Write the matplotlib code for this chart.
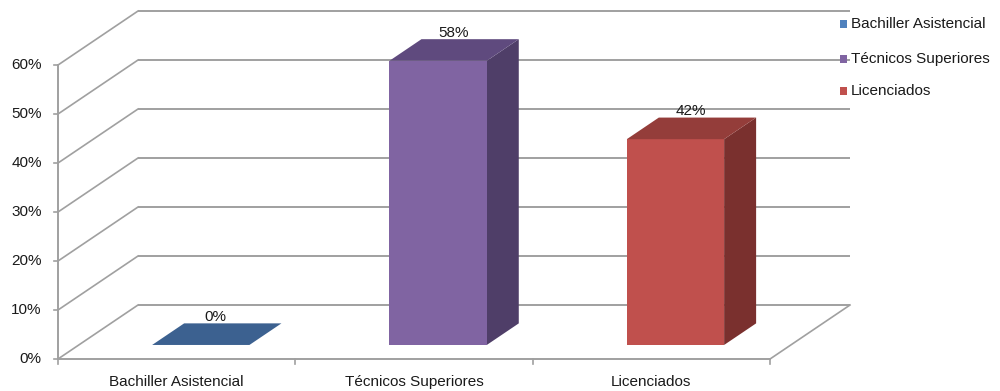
import matplotlib
matplotlib.use("Agg")
import matplotlib.pyplot as plt
from matplotlib.patches import Polygon, Rectangle

# ---- data ----
categories = ["Bachiller Asistencial", "Técnicos Superiores", "Licenciados"]
values = [0, 58, 42]
value_labels = ["0%", "58%", "42%"]
y_ticks = [0, 10, 20, 30, 40, 50, 60]
y_tick_labels = ["0%", "10%", "20%", "30%", "40%", "50%", "60%"]

# front / top / side shades for each series
front_colors = ["#4F81BD", "#8064A2", "#C0504D"]
top_colors = ["#3C6190", "#5F4A7E", "#943D3A"]
side_colors = ["#34557E", "#4F3E68", "#7A302E"]
legend_colors = ["#4F81BD", "#8064A2", "#C0504D"]

FONT = "Liberation Sans"
FS = 11
GRID = "#A0A0A0"

# ---- oblique projection (depth runs up and to the right) ----
DX = 0.337    # horizontal shift of the back wall, category units
DY = 11.02    # vertical shift of the back wall, percent units
D_FRONT, D_BACK = 0.26, 0.66   # depth span of the bars
BAR_W = 0.41
BAR_SHIFT = 0.014


def proj(x, v, d):
    return (x + d * DX, v + d * DY)


fig = plt.figure(figsize=(10, 3.91), dpi=100)
ax = fig.add_axes([0, 0, 1, 1])
ax.set_xlim(-0.2444, 3.969)
ax.set_ylim(-6.53, 73.27)
ax.axis("off")

n = len(categories)
ymax = y_ticks[-1]

# back wall gridlines, left wall diagonals and value-axis labels
for v, lab in zip(y_ticks, y_tick_labels):
    (x0, y0), (x1, y1) = proj(0, v, 1), proj(n, v, 1)
    ax.plot([x0, x1], [y0, y1], color=GRID, lw=1.4, solid_capstyle="butt", zorder=1)
    (a0, b0), (a1, b1) = proj(0, v, 0), proj(0, v, 1)
    ax.plot([a0, a1], [b0, b1], color=GRID, lw=1.2, zorder=1)
    ax.plot([-0.017, 0], [v, v], color=GRID, lw=1.2, zorder=1)
    ax.text(-0.068, v, lab, ha="right", va="center",
            fontsize=FS, family=FONT, color="#1a1a1a")

# front value axis, floor front edge and floor right edge
ax.plot([0, 0], [0, ymax], color=GRID, lw=1.4, zorder=1)
ax.plot([0, n], [0, 0], color=GRID, lw=1.4, zorder=1)
(fx0, fy0), (fx1, fy1) = proj(n, 0, 0), proj(n, 0, 1)
ax.plot([fx0, fx1], [fy0, fy1], color=GRID, lw=1.2, zorder=1)

# category ticks and labels
for i in range(n + 1):
    ax.plot([i, i], [0, -1.0], color=GRID, lw=1.2, zorder=1)
for i, cat in enumerate(categories):
    ax.text(i + 0.5, -4.6, cat, ha="center", va="center",
            fontsize=FS, family=FONT, color="#1a1a1a")

# 3D bars
for i, v in enumerate(values):
    xl = i + 0.5 - BAR_W / 2 + BAR_SHIFT
    xr = xl + BAR_W
    front = [proj(xl, 0, D_FRONT), proj(xr, 0, D_FRONT),
             proj(xr, v, D_FRONT), proj(xl, v, D_FRONT)]
    top = [proj(xl, v, D_FRONT), proj(xr, v, D_FRONT),
           proj(xr, v, D_BACK), proj(xl, v, D_BACK)]
    side = [proj(xr, 0, D_FRONT), proj(xr, 0, D_BACK),
            proj(xr, v, D_BACK), proj(xr, v, D_FRONT)]
    if v > 0:
        ax.add_patch(Polygon(side, closed=True, facecolor=side_colors[i],
                             edgecolor="none", zorder=3))
        ax.add_patch(Polygon(front, closed=True, facecolor=front_colors[i],
                             edgecolor="none", zorder=3))
    ax.add_patch(Polygon(top, closed=True, facecolor=top_colors[i],
                         edgecolor="none", zorder=3))
    ax.text(i + 0.5 + 0.165, v + 8.6, value_labels[i], ha="center", va="center",
            fontsize=FS, family=FONT, color="#1a1a1a", zorder=4)

# legend
legend_rows_px = [24, 59, 91]
for row, cat, col in zip(legend_rows_px, categories, legend_colors):
    yd = (359 - row) / 4.9
    sx = (840 - 58) / 237.33
    ax.add_patch(Rectangle((sx, yd - 0.72), 7 / 237.33, 1.44,
                           facecolor=col, edgecolor="none", zorder=5))
    ax.text((851 - 58) / 237.33, yd, cat, ha="left", va="center",
            fontsize=FS, family=FONT, color="#1a1a1a", zorder=5)

fig.savefig("out.png", dpi=100)
